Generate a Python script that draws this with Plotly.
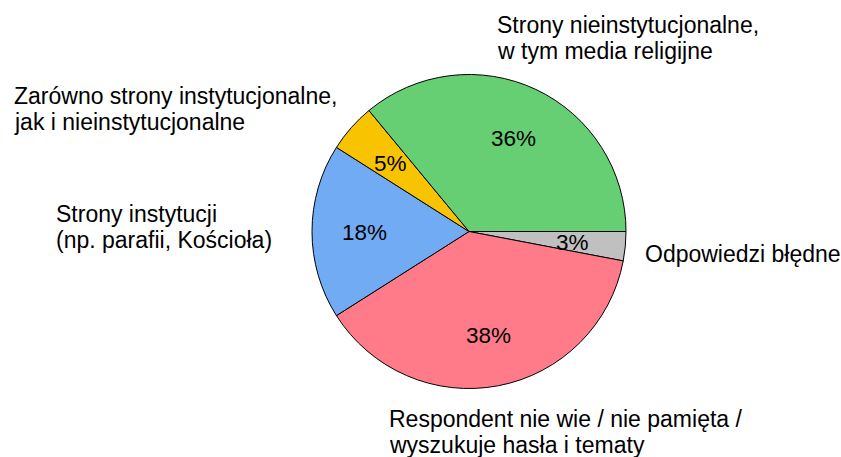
import math
import plotly.graph_objects as go

W, H = 841, 457

# slices listed clockwise starting at 3 o'clock
categories = [
    "Odpowiedzi błędne",
    "Respondent nie wie / nie pamięta /<br>wyszukuje hasła i tematy",
    "Strony instytucji<br>(np. parafii, Kościoła)",
    "Zarówno strony instytucjonalne,<br>jak i nieinstytucjonalne",
    "Strony nieinstytucjonalne,<br>w tym media religijne",
]
values = [3, 38, 18, 5, 36]
colors = ["#C0C0C0", "#FF7B8A", "#71ABF4", "#F8C300", "#66CF74"]

# label placement (pixels: left x, baseline y of first line)
label_pos = [(643, 261), (387, 426), (54, 221), (12, 103), (495, 32)]
LINE_GAP = 25.5
FONT = "Liberation Sans, Arial, sans-serif"
FS = 23
PCT_FS = 22.5

cx, cy, r = 469, 231.5, 157
fig = go.Figure(go.Pie(
    labels=categories,
    values=values,
    marker=dict(colors=colors, line=dict(color="black", width=1)),
    sort=False,
    direction="clockwise",
    rotation=90,
    textinfo="none",
    domain=dict(x=[(cx - r) / W, (cx + r) / W], y=[1 - (cy + r) / H, 1 - (cy - r) / H]),
    showlegend=False,
    hoverinfo="label+percent",
))

# percentage labels placed at the slice mid-angle, derived from the values
total = sum(values)
cum = 0.0
for v in values:
    mid = (cum + v / 2) / total * 2 * math.pi  # clockwise from 3 o'clock
    cum += v
    px = cx + 0.665 * r * math.cos(mid)
    py = cy + 0.665 * r * math.sin(mid) + 1
    fig.add_annotation(
        text=f"{round(v / total * 100)}%", x=px / W, y=1 - py / H,
        xref="paper", yref="paper", xanchor="center", yanchor="middle",
        showarrow=False, font=dict(family=FONT, size=PCT_FS, color="black"),
    )

for text, (x, yb) in zip(categories, label_pos):
    for i, line in enumerate(text.split("<br>")):
        yc = yb + i * LINE_GAP - 0.3 * FS
        fig.add_annotation(
            text=line, x=x / W, y=1 - yc / H, xref="paper", yref="paper",
            xanchor="left", yanchor="middle", align="left", showarrow=False,
            font=dict(family=FONT, size=FS, color="black"),
        )

fig.update_layout(
    width=W, height=H,
    margin=dict(l=0, r=0, t=0, b=0),
    paper_bgcolor="white", plot_bgcolor="white",
)
fig.write_html("out.html", post_script="document.body.style.margin='0';",
               config={"displayModeBar": False})
